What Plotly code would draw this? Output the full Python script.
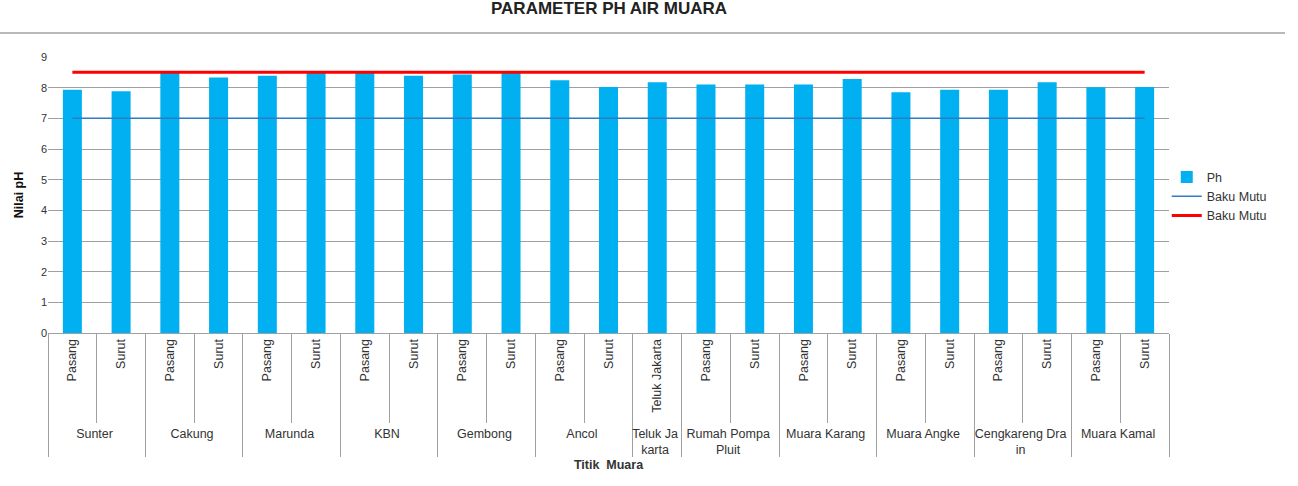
import plotly.graph_objects as go

groups = ["Sunter", "Sunter", "Cakung", "Cakung", "Marunda", "Marunda", "KBN", "KBN",
          "Gembong", "Gembong", "Ancol", "Ancol", "Teluk Ja<br>karta",
          "Rumah Pompa<br>Pluit", "Rumah Pompa<br>Pluit", "Muara Karang", "Muara Karang",
          "Muara Angke", "Muara Angke", "Cengkareng Dra<br>in", "Cengkareng Dra<br>in",
          "Muara Kamal", "Muara Kamal"]
points = ["Pasang", "Surut", "Pasang", "Surut", "Pasang", "Surut", "Pasang", "Surut",
          "Pasang", "Surut", "Pasang", "Surut", "Teluk Jakarta",
          "Pasang", "Surut", "Pasang", "Surut",
          "Pasang", "Surut", "Pasang", "Surut",
          "Pasang", "Surut"]
ph = [7.93, 7.88, 8.5, 8.33, 8.39, 8.5, 8.5, 8.39, 8.43, 8.5, 8.24, 8.02, 8.18,
      8.1, 8.1, 8.1, 8.28, 7.85, 7.93, 7.93, 8.18, 8.01, 8.02]
baku_mutu_min = [7.0] * len(ph)
baku_mutu_max = [8.5] * len(ph)
y_ticks = [0, 1, 2, 3, 4, 5, 6, 7, 8, 9]

FONT = "Arial, 'Liberation Sans', sans-serif"

fig = go.Figure()
fig.add_trace(go.Bar(x=[groups, points], y=ph, name="Ph", marker_color="#00b0f0",
                     marker_line_width=0))
fig.add_trace(go.Scatter(x=[groups, points], y=baku_mutu_min, name="Baku Mutu",
                         mode="lines", line=dict(color="#2f7bc4", width=1.5)))
fig.add_trace(go.Scatter(x=[groups, points], y=baku_mutu_max, name="Baku Mutu",
                         mode="lines", line=dict(color="#ff0000", width=3)))

fig.update_layout(
    width=1298, height=486,
    margin=dict(l=48, r=129, t=57, b=153),
    paper_bgcolor="white", plot_bgcolor="white",
    font=dict(family=FONT, size=11, color="#333333"),
    bargap=0.61,
    showlegend=True,
    legend=dict(x=0.998, y=0.618, xanchor="left", yanchor="top",
                font=dict(size=12.5, color="#333333"), tracegroupgap=0,
                bgcolor="rgba(0,0,0,0)"),
    xaxis=dict(
        type="multicategory", tickangle=-90, showgrid=False,
        showline=True, linecolor="#a0a0a0", linewidth=1,
        ticks="outside", ticklen=89, tickcolor="#a0a0a0", tickson="boundaries",
        showdividers=True, dividercolor="#a0a0a0", dividerwidth=1,
        tickfont=dict(size=12.5, color="#333333"),
        title=dict(text="<b>Titik  Muara</b>", font=dict(size=12.5, color="#333333"), standoff=4),
    ),
    yaxis=dict(
        range=[0, 9], tickvals=y_ticks, showgrid=True, gridcolor="#a0a0a0",
        gridwidth=1, zeroline=False, showline=False, ticks="",
        tickfont=dict(size=11, color="#333333"),
        title=dict(text="<b>Nilai pH</b>", font=dict(size=12.5, color="#111111"), standoff=14),
    ),
)

fig.add_annotation(text="<b>PARAMETER PH AIR MUARA</b>", xref="paper", yref="paper",
                   x=0.5, y=1.133, xanchor="center", yanchor="bottom", showarrow=False,
                   font=dict(size=17, color="#222222", family=FONT))
fig.add_shape(type="line", xref="paper", yref="paper",
              x0=-48 / 1121, x1=(1285 - 48) / 1121, y0=1 + 24 / 276, y1=1 + 24 / 276,
              line=dict(color="#a0a0a0", width=1.5))

fig.write_html("out.html")
